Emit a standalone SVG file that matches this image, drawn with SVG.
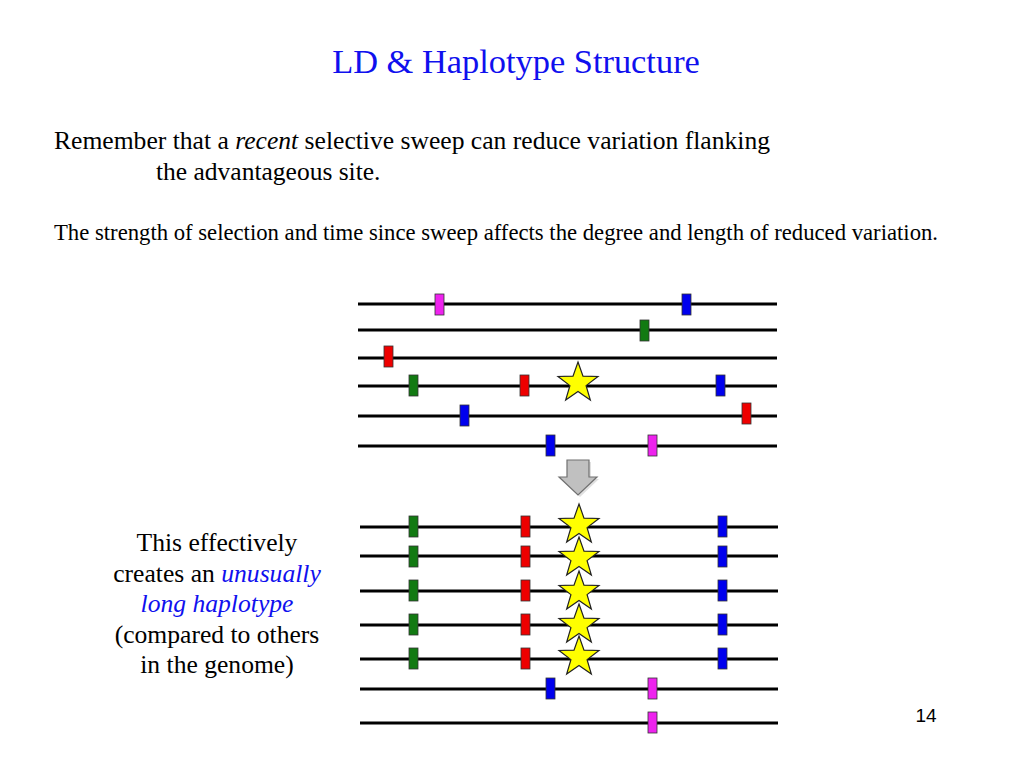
<svg xmlns="http://www.w3.org/2000/svg" xmlns:xlink="http://www.w3.org/1999/xlink" width="1024" height="768" viewBox="0 0 1024 768">
<style>
.serif{font-family:"Liberation Serif","Times New Roman",serif;fill:#000}
.line{stroke:#000;stroke-width:3;fill:none}
.m{stroke:#333;stroke-width:0.8}
.mg{fill:#ee22ee}
.bl{fill:#0000ee}
.gr{fill:#127a12}
.rd{fill:#ee0000}
</style>
<defs>
<path id="star" d="M0,-21 L5,-6.88 L19.97,-6.49 L8.08,2.63 L12.34,16.99 L0,8.5 L-12.34,16.99 L-8.08,2.63 L-19.97,-6.49 L-5,-6.88 Z" fill="#ffff00" stroke="#222" stroke-width="1.2" stroke-linejoin="miter"/>
</defs>
<rect width="1024" height="768" fill="#fff"/>

<g id="title"><text class="serif" x="516" y="73" font-size="34.4" text-anchor="middle" style="fill:#1010ee">LD &amp; Haplotype Structure</text></g>
<g id="intro">
<text class="serif" x="54" y="149" font-size="25.5" textLength="716" lengthAdjust="spacingAndGlyphs">Remember that a <tspan font-style="italic">recent</tspan> selective sweep can reduce variation flanking</text>
<text class="serif" x="156" y="180" font-size="25.5">the advantageous site.</text>
<text class="serif" x="54" y="240" font-size="22.4" textLength="884" lengthAdjust="spacingAndGlyphs">The strength of selection and time since sweep affects the degree and length of reduced variation.</text>
</g>

<g id="before">
<g id="h1"><line class="line" x1="358" y1="304" x2="777" y2="304"/><rect class="m mg" x="435" y="294" width="9" height="21"/><rect class="m bl" x="682" y="294" width="9" height="21"/></g>
<g id="h2"><line class="line" x1="358" y1="330" x2="777" y2="330"/><rect class="m gr" x="640" y="320" width="9" height="21"/></g>
<g id="h3"><line class="line" x1="358" y1="358" x2="777" y2="358"/><rect class="m rd" x="384" y="346" width="9" height="21"/></g>
<g id="h4"><line class="line" x1="358" y1="386" x2="777" y2="386"/><rect class="m gr" x="409" y="375" width="9" height="21"/><rect class="m rd" x="520" y="375" width="9" height="21"/><use xlink:href="#star" href="#star" x="578" y="383"/><rect class="m bl" x="716" y="375" width="9" height="21"/></g>
<g id="h5"><line class="line" x1="358" y1="416" x2="777" y2="416"/><rect class="m bl" x="460" y="405" width="9" height="21"/><rect class="m rd" x="742" y="403" width="9" height="21"/></g>
<g id="h6"><line class="line" x1="358" y1="446" x2="777" y2="446"/><rect class="m bl" x="546" y="435" width="9" height="21"/><rect class="m mg" x="648" y="435" width="9" height="21"/></g>
</g>

<g id="arrow">
<polygon points="569,462 591,462 591,479 599,479 580,497 561,479 569,479" fill="#000" opacity="0.12"/>
<polygon points="567,460 589,460 589,477 597,477 578,495 559,477 567,477" fill="#c0c0c0" stroke="#707070" stroke-width="1.2" stroke-linejoin="miter"/>
</g>

<g id="after">
<g id="a1"><line class="line" x1="360" y1="527" x2="778" y2="527"/><rect class="m gr" x="409" y="516" width="9" height="21"/><rect class="m rd" x="521" y="516" width="9" height="21"/><use xlink:href="#star" href="#star" x="579" y="525"/><rect class="m bl" x="718" y="516" width="9" height="21"/></g>
<g id="a2"><line class="line" x1="360" y1="556" x2="778" y2="556"/><rect class="m gr" x="409" y="546" width="9" height="21"/><rect class="m rd" x="521" y="546" width="9" height="21"/><use xlink:href="#star" href="#star" x="579" y="558"/><rect class="m bl" x="718" y="546" width="9" height="21"/></g>
<g id="a3"><line class="line" x1="360" y1="591" x2="778" y2="591"/><rect class="m gr" x="409" y="580" width="9" height="21"/><rect class="m rd" x="521" y="580" width="9" height="21"/><use xlink:href="#star" href="#star" x="579" y="592"/><rect class="m bl" x="718" y="580" width="9" height="21"/></g>
<g id="a4"><line class="line" x1="360" y1="625" x2="778" y2="625"/><rect class="m gr" x="409" y="614" width="9" height="21"/><rect class="m rd" x="521" y="614" width="9" height="21"/><use xlink:href="#star" href="#star" x="579" y="625"/><rect class="m bl" x="718" y="614" width="9" height="21"/></g>
<g id="a5"><line class="line" x1="360" y1="659" x2="778" y2="659"/><rect class="m gr" x="409" y="648" width="9" height="21"/><rect class="m rd" x="521" y="648" width="9" height="21"/><use xlink:href="#star" href="#star" x="579" y="657"/><rect class="m bl" x="718" y="648" width="9" height="21"/></g>
<g id="a6"><line class="line" x1="360" y1="689" x2="778" y2="689"/><rect class="m bl" x="546" y="678" width="9" height="21"/><rect class="m mg" x="648" y="678" width="9" height="21"/></g>
<g id="a7"><line class="line" x1="360" y1="723" x2="778" y2="723"/><rect class="m mg" x="648" y="712" width="9" height="21"/></g>
</g>

<g id="caption" font-size="25.6">
<text class="serif" x="217" y="551" text-anchor="middle">This effectively</text>
<text class="serif" x="217" y="582" text-anchor="middle">creates an <tspan font-style="italic" style="fill:#1010ee">unusually</tspan></text>
<text class="serif" x="217" y="612" text-anchor="middle" font-style="italic" style="fill:#1010ee">long haplotype</text>
<text class="serif" x="217" y="643" text-anchor="middle">(compared to others</text>
<text class="serif" x="217" y="673" text-anchor="middle">in the genome)</text>
</g>

<g id="pagenum"><text x="926" y="722" font-family="Liberation Sans, Arial, sans-serif" font-size="19" text-anchor="middle" fill="#000">14</text></g>
</svg>
